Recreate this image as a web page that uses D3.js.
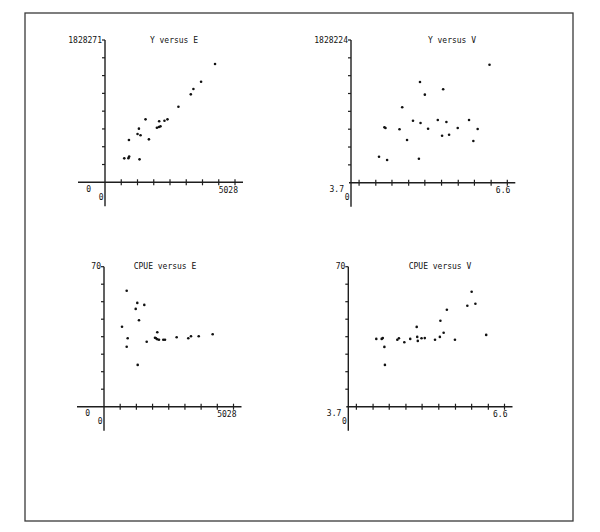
<!DOCTYPE html>
<html>
<head>
<meta charset="utf-8">
<script src="https://cdn.jsdelivr.net/npm/d3@7"></script>
<style>
  body { margin: 0; background: #fff; }
  text { font-family: "DejaVu Sans Mono", monospace; font-size: 8px; fill: #111; }
</style>
</head>
<body>
<div id="chart"></div>
<script>
// values
const titles = ["Y versus E", "Y versus V", "CPUE versus E", "CPUE versus V"];
const eDomain = [0, 5028];
const vDomain = [3.7, 6.6];
const yDomains = [[0, 1828271], [0, 1828224]];
const cpueDomain = [0, 70];

const eTicks = [628.5, 1257, 1885.5, 2514, 3142.5, 3771, 4399.5, 5028];
const vTicks = [3.85, 4.16, 4.46, 4.77, 5.07, 5.38, 5.69, 5.99, 6.30, 6.60];

// [E, Y]
const yVsE = [
  [745, 308000], [905, 310000], [935, 330000], [926, 543000], [1335, 295000],
  [1258, 620000], [1374, 604000], [1312, 689000], [1567, 809000], [1698, 552000],
  [2007, 701000], [2084, 710000], [2145, 719000], [2095, 784000], [2300, 791000],
  [2416, 809000], [2840, 971000], [3319, 1130000], [3419, 1199000], [3716, 1292000],
  [4256, 1520000]
];
// [V, Y]
const yVsV = [
  [4.22, 333000], [4.32, 710000], [4.34, 701000], [4.37, 291000], [4.60, 684000],
  [4.65, 966000], [4.74, 547000], [4.85, 794000], [4.96, 307000], [4.98, 1290000],
  [4.99, 765000], [5.07, 1128000], [5.13, 692000], [5.31, 803000], [5.39, 602000],
  [5.41, 1197000], [5.47, 778000], [5.52, 615000], [5.68, 701000], [5.89, 803000],
  [5.97, 534000], [6.05, 688000], [6.27, 1512000]
];
// [E, CPUE]
const cpueVsE = [
  [699, 40.0], [881, 58.0], [881, 30.0], [920, 34.2], [1231, 48.9], [1293, 51.9],
  [1308, 20.9], [1359, 43.2], [1565, 50.9], [1658, 32.5], [1980, 34.5], [2019, 34.2],
  [2069, 37.2], [2069, 33.7], [2135, 33.5], [2302, 33.5], [2368, 33.5], [2822, 34.7],
  [3273, 34.2], [3378, 35.2], [3677, 35.2], [4220, 36.2]
];
// [V, CPUE]
const cpueVsV = [
  [4.22, 33.9], [4.32, 33.9], [4.34, 34.3], [4.37, 29.9], [4.38, 20.9], [4.61, 33.5],
  [4.64, 34.2], [4.74, 32.2], [4.85, 33.9], [4.97, 39.9], [4.98, 34.9], [4.99, 32.9],
  [5.06, 34.2], [5.12, 34.3], [5.31, 33.5], [5.40, 34.9], [5.41, 43.0], [5.47, 37.0],
  [5.53, 48.5], [5.68, 33.5], [5.91, 50.5], [5.99, 57.5], [6.06, 51.5], [6.26, 35.9]
];

const width = 600, height = 532;

const svg = d3.select("#chart")
  .append("svg")
  .attr("width", width)
  .attr("height", height)
  .attr("viewBox", [0, 0, width, height]);

// outer frame of the printout
svg.append("rect")
  .attr("x", 25).attr("y", 13)
  .attr("width", 548).attr("height", 508)
  .attr("fill", "none")
  .attr("stroke", "#3a3a3a")
  .attr("stroke-width", 1.3);

const panels = [
  { title: titles[0], data: yVsE, xDom: eDomain, yDom: yDomains[0], xTicks: eTicks,
    minLabel: "0", maxLabel: "5028", topLabel: String(yDomains[0][1]),
    ox: 105, oy: 182.3, w: 130, h: 142.3, ext: 27, titleX: 174 },
  { title: titles[1], data: yVsV, xDom: vDomain, yDom: yDomains[1], xTicks: vTicks,
    minLabel: "3.7", maxLabel: "6.6", topLabel: String(yDomains[1][1]),
    ox: 351, oy: 182.7, w: 156.3, h: 142.7, ext: 2, titleX: 452 },
  { title: titles[2], data: cpueVsE, xDom: eDomain, yDom: cpueDomain, xTicks: eTicks,
    minLabel: "0", maxLabel: "5028", topLabel: "70",
    ox: 104, oy: 406.7, w: 129.5, h: 140, ext: 27, titleX: 165 },
  { title: titles[3], data: cpueVsV, xDom: vDomain, yDom: cpueDomain, xTicks: vTicks,
    minLabel: "3.7", maxLabel: "6.6", topLabel: "70",
    ox: 348.3, oy: 406.7, w: 156.2, h: 140, ext: 2, titleX: 440 }
];

for (let p of panels) {
  let x = d3.scaleLinear().domain(p.xDom).range([p.ox, p.ox + p.w]);
  let y = d3.scaleLinear().domain(p.yDom).range([p.oy, p.oy - p.h]);
  let yTicks = d3.range(1, 9).map(i => p.yDom[1] * i / 8);

  let g = svg.append("g")
    .attr("stroke", "#1e1e1e");

  // axes
  g.append("line")
    .attr("x1", p.ox - p.ext).attr("x2", p.ox + p.w + 8)
    .attr("y1", p.oy).attr("y2", p.oy)
    .attr("stroke-width", 1.4);

  g.append("line")
    .attr("x1", p.ox).attr("x2", p.ox)
    .attr("y1", p.oy - p.h).attr("y2", p.oy + 24)
    .attr("stroke-width", 1.4);

  g.selectAll(".xtick")
    .data(p.xTicks)
    .join("line")
    .attr("x1", d => x(d)).attr("x2", d => x(d))
    .attr("y1", p.oy - 3).attr("y2", p.oy + 3)
    .attr("stroke-width", 1.2);

  g.selectAll(".ytick")
    .data(yTicks)
    .join("line")
    .attr("x1", p.ox - 3).attr("x2", p.ox)
    .attr("y1", d => y(d)).attr("y2", d => y(d))
    .attr("stroke-width", 1.2);

  // points
  svg.append("g")
    .selectAll("circle")
    .data(p.data)
    .join("circle")
    .attr("cx", d => x(d[0]))
    .attr("cy", d => y(d[1]))
    .attr("r", 1.3)
    .attr("fill", "#111");

  // labels
  svg.append("text")
    .text(p.title)
    .attr("x", p.titleX)
    .attr("y", p.oy - p.h)
    .attr("text-anchor", "middle")
    .attr("dominant-baseline", "middle");

  svg.append("text")
    .text(p.topLabel)
    .attr("x", p.ox - 3)
    .attr("y", p.oy - p.h)
    .attr("text-anchor", "end")
    .attr("dominant-baseline", "middle");

  svg.append("text")
    .text(p.minLabel)
    .attr("x", p.minLabel === "0" ? p.ox - 14 : p.ox - 7)
    .attr("y", p.oy + 7)
    .attr("text-anchor", "end")
    .attr("dominant-baseline", "middle");

  svg.append("text")
    .text("0")
    .attr("x", p.ox - 1.5)
    .attr("y", p.oy + 15)
    .attr("text-anchor", "end")
    .attr("dominant-baseline", "middle");

  svg.append("text")
    .text(p.maxLabel)
    .attr("x", x(p.xDom[1]) + 3)
    .attr("y", p.oy + 8)
    .attr("text-anchor", "end")
    .attr("dominant-baseline", "middle");
}
</script>
</body>
</html>
